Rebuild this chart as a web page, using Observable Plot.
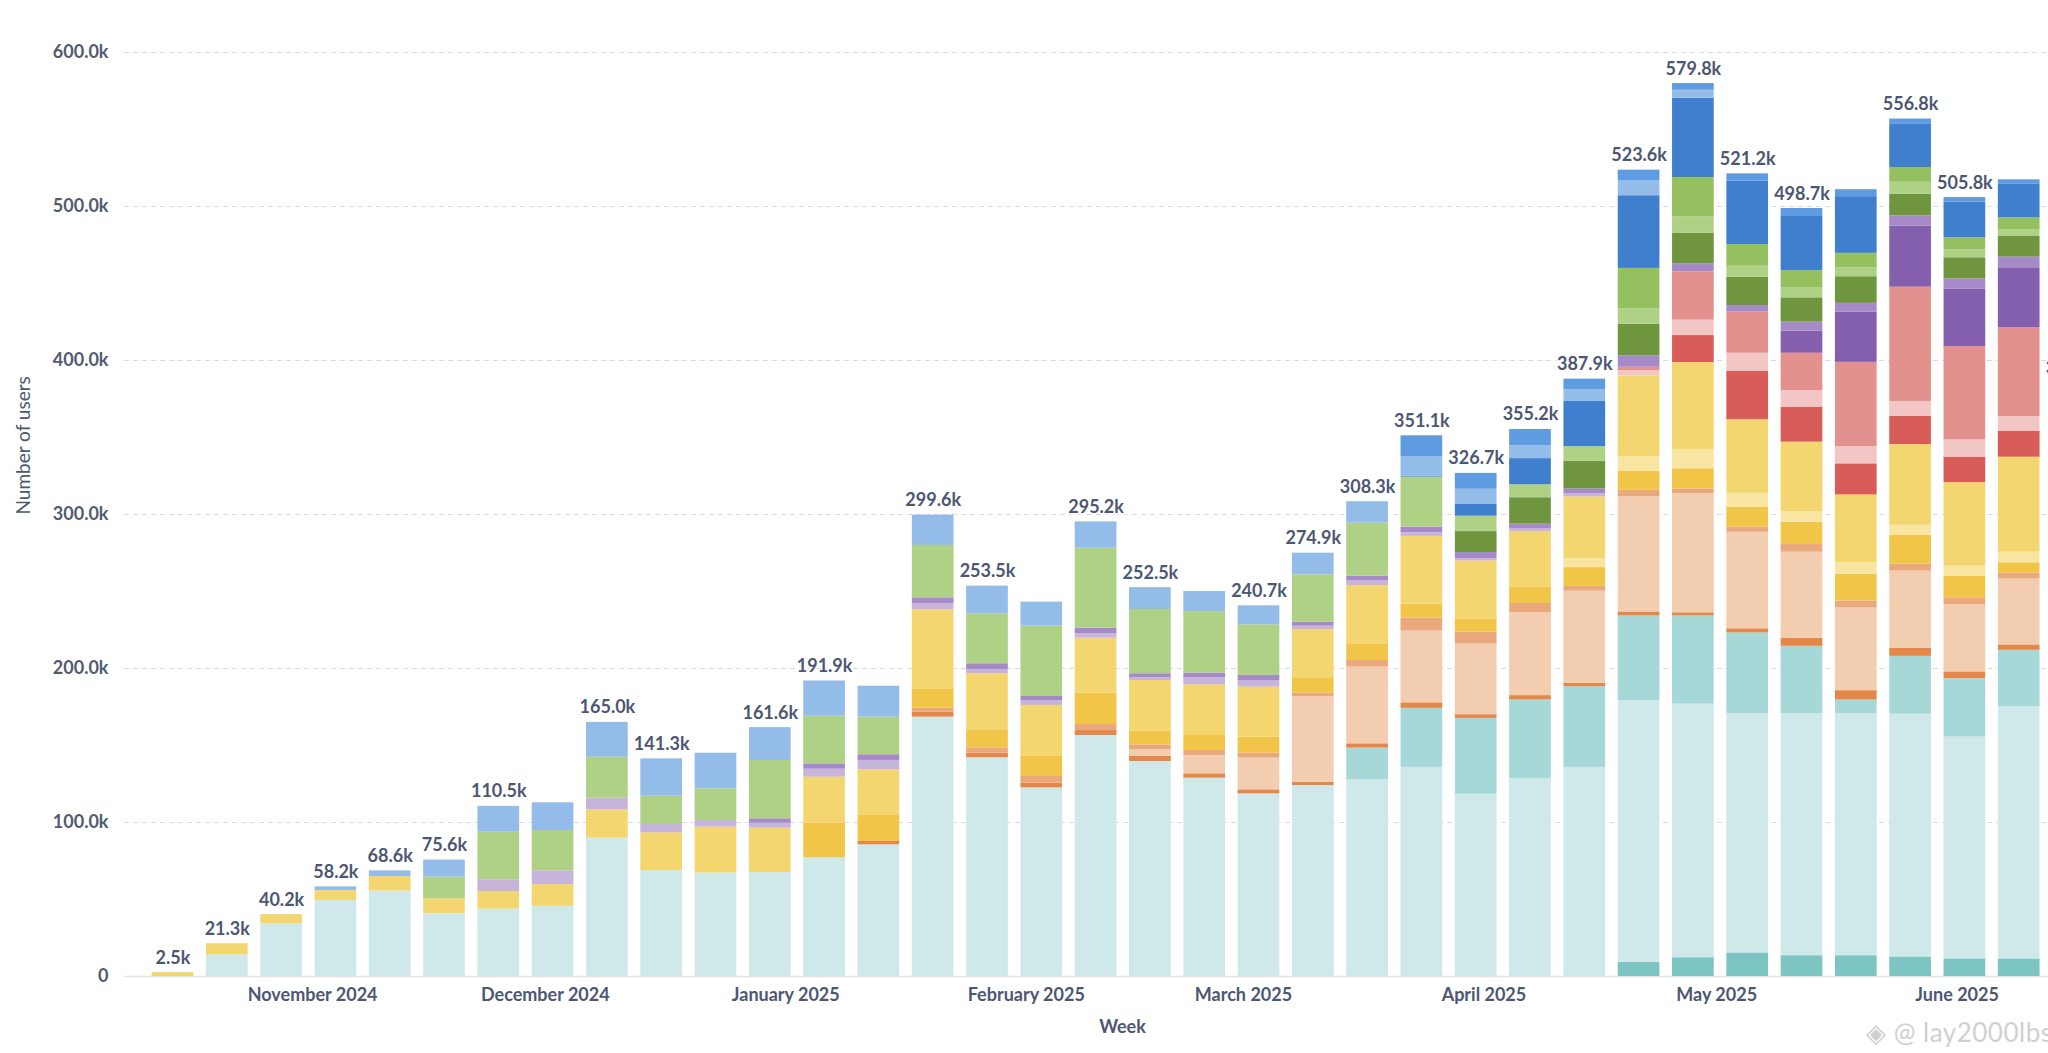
<!DOCTYPE html>
<html>
<head>
<meta charset="utf-8">
<script src="https://cdn.jsdelivr.net/npm/d3@7"></script>
<script src="https://cdn.jsdelivr.net/npm/@observablehq/plot@0.6"></script>
<style>
  html, body { margin: 0; padding: 0; background: #fff; overflow: hidden; width: 2048px; height: 1053px; }
  #chart { position: relative; width: 2048px; height: 1053px; overflow: hidden; }
  #chart svg { max-width: none !important; display: block; }
  #wm { position: absolute; left: 1866px; top: 1016px; font: 400 26px Lato, sans-serif; color: #d0d0d0; white-space: nowrap; letter-spacing: 0.5px; }
</style>
</head>
<body>
<div id="chart"></div>
<script>
// ---- categories (week start dates) ----
const weeks = [
  "2024-10-14","2024-10-21","2024-10-28","2024-11-04","2024-11-11","2024-11-18","2024-11-25",
  "2024-12-02","2024-12-09","2024-12-16","2024-12-23","2024-12-30","2025-01-06","2025-01-13",
  "2025-01-20","2025-01-27","2025-02-03","2025-02-10","2025-02-17","2025-02-24","2025-03-03",
  "2025-03-10","2025-03-17","2025-03-24","2025-03-31","2025-04-07","2025-04-14","2025-04-21",
  "2025-04-28","2025-05-05","2025-05-12","2025-05-19","2025-05-26","2025-06-02","2025-06-09",
  "2025-06-16"
];

// ---- series (bottom to top) and colours ----
const seriesNames = [
  "teal dark","teal light","teal","orange dark","orange light","orange",
  "yellow dark","yellow light","yellow","red dark","red light","red",
  "purple dark","purple light","purple","green dark","green light","green",
  "blue dark","blue light","blue"
];
const seriesColors = [
  "#7cc5c3","#cfe8ea","#a6d8d8","#e3884a","#f2cdb0","#eaa97c",
  "#f0c548","#f8e5a2","#f4d670","#d85d58","#f3c6c6","#e3918e",
  "#835fad","#c6b4da","#a68ac8","#6f963f","#aed186","#95c05f",
  "#3f7fcd","#94bce8","#5f9be0"
];

// ---- series values, thousands of users per week ----
const tealDark    = [0,0,0,0,0,0,0,0,0,0,0,0,0,0,0,0,0,0,0,0,0,0,0,0,0,0,0,9.2,12.2,15.3,13.5,13.5,12.7,11.4,11.4,8.5];
const tealLight   = [0,14.1,34.2,49.4,55.4,40.7,43.7,45.6,89.8,68.8,67.1,67.5,77.1,85.5,168.4,142.0,122.5,156.5,139.6,128.8,118.6,124.0,127.9,135.8,118.3,128.6,135.8,169.8,164.7,155.4,157.2,157.2,157.6,144.1,163.7,122];
const teal        = [0,0,0,0,0,0,0,0,0,0,0,0,0,0,0,0,0,0,0,0,0,0,20.4,38.3,49.3,51.0,52.4,55.1,57.2,52.4,43.7,8.8,37.6,37.9,36.7,27];
const orangeDark  = [0,0,0,0,0,0,0,0,0,0,0,0,0,2.2,3.2,3.0,3.0,3.2,3.3,2.8,2.6,2.2,2.8,3.6,2.4,2.8,2.2,2.6,2.1,2.7,5.3,6.1,5.2,4.4,3.5,2.6];
const orangeLight = [0,0,0,0,0,0,0,0,0,0,0,0,0,0,0,0,0,0,4.3,11.9,20.6,55.6,49.8,46.6,45.9,53.9,59.8,74.7,77.3,62.7,55.8,53.7,50.2,43.7,42.8,32];
const orange      = [0,0,0,0,0,0,0,0,0,0,0,0,0,0,2.6,3.5,4.4,3.9,3.2,3.3,3.2,2.2,4.3,8.4,7.7,5.9,3.1,4.3,3.1,3.3,5.0,4.4,4.4,4.4,3.9,2.9];
const yellowDark  = [0,0,0,0,0,0,0,0,0,0,0,0,22.4,17.3,12.6,11.2,13.0,20.4,8.9,9.7,10.4,10.0,10.4,9.1,8.6,10.8,12.2,12.2,13.1,13.0,14.5,17.4,18.8,13.9,6.6,5];
const yellowLight = [0,0,0,0,0,0,0,0,0,0,0,0,0,0,0,0,0,0,0,0,0,0,0,0,0,0,5.7,9.7,12.2,9.0,6.9,7.5,6.5,6.6,6.9,5];
const yellow      = [2.5,7.2,6.0,6.4,9.5,9.7,11.5,14.1,18.4,24.5,29.9,28.8,29.9,29.2,51.3,36.9,33.1,35.7,32.9,32.9,32.5,31.3,38.3,44.0,37.6,35.9,40.2,52.3,56.8,47.7,45.1,44.1,52.4,54.3,61.7,46];
const redDark     = [0,0,0,0,0,0,0,0,0,0,0,0,0,0,0,0,0,0,0,0,0,0,0,0,0,0,0,0,17.5,31.6,22.7,20.2,18.4,16.5,16.9,12.6];
const redLight    = [0,0,0,0,0,0,0,0,0,0,0,0,0,0,0,0,0,0,0,0,0,0,0,0,0,0,0,3.5,10.0,11.6,10.8,11.2,9.6,11.3,9.5,7];
const red         = [0,0,0,0,0,0,0,0,0,0,0,0,0,0,0,0,0,0,0,0,0,0,0,0,0,0,0,2.2,31.4,26.7,24.2,54.7,74.2,60.6,57.6,43];
const purpleDark  = [0,0,0,0,0,0,0,0,0,0,0,0,0,0,0,0,0,0,0,0,0,0,0,0,0,0,0,0,0,0,14.3,32.5,39.7,37.4,39.0,29];
const purpleLight = [0,0,0,0,0,0,7.6,8.9,7.6,5.4,4.3,3.2,5.2,6.1,3.9,2.8,3.2,2.8,1.8,4.6,4.3,2.2,3.2,2.4,1.6,1.7,2.0,0,0,0,0,0,0,0,0,0];
const purple      = [0,0,0,0,0,0,0,0,0,0,0,2.9,3.5,3.7,3.9,3.7,2.6,3.7,2.6,3.0,3.3,2.6,2.8,3.6,3.9,3.1,3.2,7.5,5.3,4.3,5.9,5.8,6.6,6.5,6.9,5];
const greenDark   = [0,0,0,0,0,0,0,0,0,0,0,0,0,0,0,0,0,0,0,0,0,0,0,0,13.6,17.2,17.9,20.5,19.6,18.4,15.8,17.3,14.0,13.7,13.4,10];
const greenLight  = [0,0,0,0,0,14.1,30.9,26.2,26.6,18.4,20.6,37.9,30.9,24.4,34.0,32.4,45.7,51.9,41.7,40.0,32.9,30.7,34.5,32.5,10.0,8.4,9.6,10.0,10.9,7.1,6.3,5.7,7.8,5.2,4.3,3.2];
const green       = [0,0,0,0,0,0,0,0,0,0,0,0,0,0,0,0,0,0,0,0,0,0,0,0,0,0,0,26.2,25.4,14.1,11.4,9.5,9.6,7.8,7.8,5.8];
const blueDark    = [0,0,0,0,0,0,0,0,0,0,0,0,0,0,0,0,0,0,0,0,0,0,0,0.5,7.9,17.0,29.3,47.2,51.5,41.1,35.1,36.8,28.4,23.1,22.1,16.5];
const blueLight   = [0,0,0,2.4,3.7,11.1,16.8,18.0,22.6,24.2,23.1,21.3,22.9,20.1,19.7,18.0,15.6,17.1,14.2,13.0,12.3,14.1,13.9,12.7,9.6,8.3,7.8,9.6,5.2,0,0,0,0,0,0,0];
const blue        = [0,0,0,0,0,0,0,0,0,0,0,0,0,0,0,0,0,0,0,0,0,0,0,13.6,10.3,10.6,6.7,7.0,4.3,4.8,5.2,4.5,3.1,3.0,2.6,2.0];

const seriesValues = [
  tealDark, tealLight, teal, orangeDark, orangeLight, orange,
  yellowDark, yellowLight, yellow, redDark, redLight, red,
  purpleDark, purpleLight, purple, greenDark, greenLight, green,
  blueDark, blueLight, blue
];

// ---- total labels shown above bars (null = hidden) ----
const valueLabels = [
  "2.5k","21.3k","40.2k","58.2k","68.6k","75.6k","110.5k",null,"165.0k","141.3k",null,"161.6k",
  "191.9k",null,"299.6k","253.5k",null,"295.2k","252.5k",null,"240.7k","274.9k","308.3k","351.1k",
  "326.7k","355.2k","387.9k","523.6k","579.8k","521.2k","498.7k",null,"556.8k","505.8k",null,"385.1k"
];

// ---- axis ticks ----
const yTicks = [0, 100000, 200000, 300000, 400000, 500000, 600000];
const monthTicks = ["2024-11-01","2024-12-01","2025-01-01","2025-02-01","2025-03-01","2025-04-01","2025-05-01","2025-06-01"];

// ---- build tables ----
const weekDates = weeks.map(w => new Date(w + "T00:00:00Z"));
const rows = [];
weekDates.forEach((date, i) => {
  const start = d3.utcHour.offset(date, -84);
  const end = d3.utcHour.offset(date, 84);
  seriesValues.forEach((vals, s) => {
    if (vals[i] > 0) rows.push({start, end, series: seriesNames[s], value: vals[i] * 1000});
  });
});
const totals = weekDates.map((date, i) => ({
  date,
  total: d3.sum(seriesValues, v => v[i]) * 1000,
  label: valueLabels[i]
}));

const fmtY = d => d === 0 ? "0" : (d / 1000).toFixed(1) + "k";

const chart = Plot.plot({
  width: 2120,
  height: 1053,
  marginLeft: 124,
  marginRight: 0,
  marginTop: 52,
  marginBottom: 77,
  style: {
    fontFamily: "Lato, 'Open Sans', sans-serif",
    fontSize: "18px",
    fontWeight: 700,
    color: "#4c5773",
    background: "#ffffff",
    overflow: "hidden"
  },
  x: {type: "utc", domain: [new Date("2024-10-07T18:00:00Z"), new Date("2025-06-22T01:26:00Z")]},
  y: {domain: [0, 600000]},
  color: {domain: seriesNames, range: seriesColors},
  marks: [
    Plot.gridY(yTicks.filter(d => d > 0), {stroke: "#d9dce1", strokeOpacity: 1, strokeDasharray: "5,4"}),
    Plot.ruleY([0], {stroke: "#e2e4e8", strokeWidth: 1.5}),
    Plot.rectY(rows, {
      x1: "start", x2: "end", y: "value", fill: "series",
      order: seriesNames, insetLeft: 6.3, insetRight: 6.3
    }),
    Plot.text(totals, {
      filter: d => d.label, x: "date", y: "total", text: "label",
      lineAnchor: "bottom", dy: -9, fill: "#4c5773",
      stroke: "#ffffff", strokeWidth: 3, fontSize: 18, fontWeight: 700
    }),
    Plot.axisY(yTicks, {tickSize: 0, tickPadding: 16, tickFormat: fmtY, label: null, color: "#525b70", fontSize: 18}),
    Plot.axisX(monthTicks.map(d => new Date(d + "T00:00:00Z")), {
      tickSize: 0, tickPadding: 12, tickFormat: d3.utcFormat("%B %Y"), label: null, color: "#4c5773", fontSize: 18
    }),
    Plot.text(["Number of users"], {text: d => d, frameAnchor: "left", dx: -101, rotate: -90, fontWeight: 400, fontSize: 19, fill: "#4c5773"}),
    Plot.text(["Week"], {text: d => d, frameAnchor: "bottom", dy: 56, fontSize: 18, fontWeight: 700, fill: "#4c5773"})
  ]
});
document.getElementById("chart").appendChild(chart);
const wm = document.createElement("div");
wm.id = "wm";
wm.textContent = "◈ @ lay2000lbs";
document.getElementById("chart").appendChild(wm);
</script>
</body>
</html>
